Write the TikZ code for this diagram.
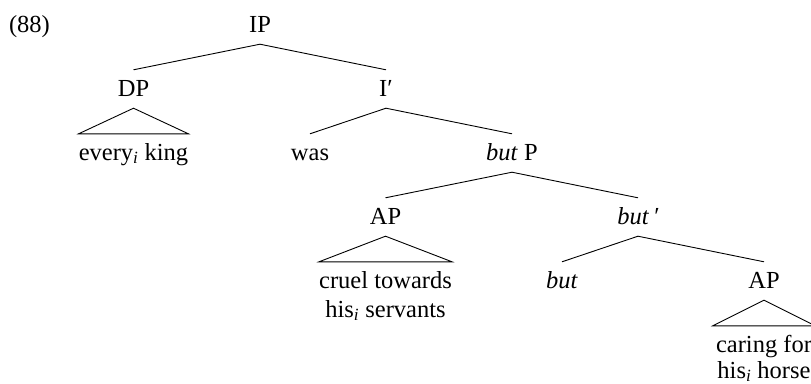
\documentclass[tikz,border=0pt]{standalone}
\usepackage{fontspec}
\setmainfont{Liberation Serif}
\newcommand{\prm}{\char"2032\relax}
\newcommand{\sbi}{\textsubscript{\itshape i}}
\tikzset{
  lab/.style={anchor=base, inner sep=0pt, text height=26pt, text depth=12pt},
  plain/.style={anchor=base, inner sep=0pt},
  br/.style={line width=0.9pt},
}
\begin{document}
\begin{tikzpicture}[x=1pt,y=-1pt,font=\fontsize{24.5}{28}\selectfont]
\useasboundingbox (0,0) rectangle (811,383);
\clip (0,0) rectangle (811,383);
\node[plain] (ex) at (29.5,32) {(88)};
\node[lab] (IP) at (260,32) {IP};
\node[lab] (DP) at (133.5,96) {DP};
\node[lab] (Ib) at (386,96) {I\prm};
\node[lab] (ek) at (133.5,160) {every\sbi{} king};
\node[lab] (was) at (310,160) {was};
\node[lab] (butP) at (512,160) {\textit{but} P};
\node[lab] (AP1) at (385.5,224) {AP};
\node[lab] (butb) at (638,224) {\textit{but\,\prm}};
\node[lab] (cruel) at (385.5,288) {cruel towards};
\node[plain] (serv) at (385.5,317) {his\sbi{} servants};
\node[lab] (but) at (562,288) {\textit{but}};
\node[lab] (AP2) at (764,288) {AP};
\node[lab] (caring) at (764,352) {caring for};
\node[plain] (horse) at (764,378) {his\sbi{} horse};
\draw[br] (DP.north) -- (IP.south) -- (Ib.north);
\draw[br] (DP.south) -- (ek.north west) -- (ek.north east) -- cycle;
\draw[br] (was.north) -- (Ib.south) -- (butP.north);
\draw[br] (AP1.north) -- (butP.south) -- (butb.north);
\draw[br] (AP1.south) -- (cruel.north west) -- (cruel.north east) -- cycle;
\draw[br] (but.north) -- (butb.south) -- (AP2.north);
\draw[br] (AP2.south) -- ([xshift=-3pt]caring.north west) -- ([xshift=3pt]caring.north east) -- cycle;
\end{tikzpicture}
\end{document}
